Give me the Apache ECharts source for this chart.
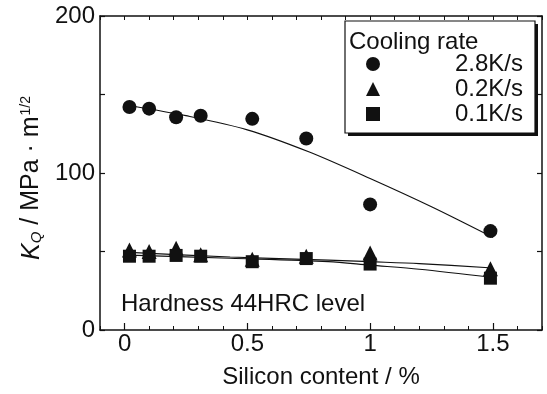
<!DOCTYPE html>
<html><head><meta charset="utf-8">
<script src="https://cdn.jsdelivr.net/npm/echarts@6/dist/echarts.min.js"></script>
<style>html,body{margin:0;padding:0;background:#fff}#c{width:547px;height:394px}</style>
</head><body><div id="c"></div>
<script>
// ---- data ----
var siliconX = [0.02, 0.10, 0.21, 0.31, 0.52, 0.74, 1.00, 1.49];
var k28 = [142, 141, 135.5, 136.5, 134.5, 122, 80, 63];
var k02 = [51, 50, 52, 48, 45, 47, 49, 39];
var k01 = [47, 47, 47.5, 47, 43.5, 45.5, 42, 33];
var fitX28 = [0.02, 0.25, 0.5, 0.75, 1.0, 1.25, 1.5];
var fit28 = [143, 136.5, 127.5, 113.5, 96.5, 78.5, 59];
var fitXlow = [0.02, 0.43, 0.83, 1.0, 1.2, 1.5];
var fit02 = [49.5, 46.5, 44.5, 43.5, 42.3, 39.5];
var fit01 = [47.7, 45.7, 43.6, 41.3, 38.7, 33.5];
var seriesNames = ['2.8K/s', '0.2K/s', '0.1K/s'];
var xMajorTicks = [0, 0.5, 1, 1.5];
var xMinorTicks = [-0.1, 0, 0.1, 0.2, 0.3, 0.4, 0.5, 0.6, 0.7, 0.8, 0.9, 1.0, 1.1, 1.2, 1.3, 1.4, 1.5, 1.6, 1.7];
var yTickLabels = [0, 100, 200];

function pairs(xs, ys) { return xs.map(function (x, i) { return [x, ys[i]]; }); }

var FONT = 'Liberation Sans';
var INK = '#111';
var chart = echarts.init(document.getElementById('c'));
var lineStyle = { color: INK, width: 1.2 };
function frameLine() { return { show: true, onZero: false, lineStyle: { color: INK, width: 1.5 } }; }
chart.setOption({
  animation: false,
  textStyle: { fontFamily: FONT, color: INK },
  grid: { left: 100, right: 5, top: 16, bottom: 63, containLabel: false },
  xAxis: [
    { type: 'value', min: -0.1, max: 1.7, position: 'bottom', offset: 0,
      axisLine: frameLine(),
      axisTick: { show: true, inside: true, length: 7, customValues: xMajorTicks, lineStyle: { color: INK, width: 1.2 } },
      axisLabel: { customValues: xMajorTicks, fontSize: 24, color: INK, margin: 2, fontFamily: FONT,
        formatter: function (v) { return String(v); } },
      splitLine: { show: false },
      name: 'Silicon content / %', nameLocation: 'middle', nameGap: 35,
      nameTextStyle: { fontSize: 24, color: INK, fontFamily: FONT } },
    { type: 'value', min: -0.1, max: 1.7, position: 'bottom', offset: 0,
      axisLine: { show: false, onZero: false },
      axisTick: { show: true, inside: true, length: 4, customValues: xMinorTicks, lineStyle: { color: INK, width: 1 } },
      axisLabel: { show: false }, splitLine: { show: false } },
    { type: 'value', min: -0.1, max: 1.7, position: 'top', offset: 0,
      axisLine: frameLine(),
      axisTick: { show: true, inside: true, length: 4, customValues: xMinorTicks, lineStyle: { color: INK, width: 1 } },
      axisLabel: { show: false }, splitLine: { show: false } }
  ],
  yAxis: [
    { type: 'value', min: 0, max: 200, interval: 50, position: 'left',
      axisLine: frameLine(),
      axisTick: { show: true, inside: true, length: 5, lineStyle: { color: INK, width: 1.2 } },
      axisLabel: { fontSize: 24, color: INK, margin: 5, fontFamily: FONT,
        formatter: function (v) { return yTickLabels.indexOf(v) >= 0 ? String(v) : ''; } },
      splitLine: { show: false },
      name: '{k|K}{q|Q}{n| / MPa · m}{s|1/2}', nameLocation: 'middle', nameGap: 30, nameRotate: 90,
      nameTextStyle: { fontFamily: FONT, color: INK, padding: [0, 10, 0, 0], rich: {
        k: { fontSize: 25, fontStyle: 'italic', fontFamily: FONT, color: INK, lineHeight: 26, verticalAlign: 'bottom' },
        q: { fontSize: 15, fontStyle: 'italic', fontFamily: FONT, color: INK, lineHeight: 15, verticalAlign: 'bottom' },
        n: { fontSize: 25, fontFamily: FONT, color: INK, lineHeight: 26, verticalAlign: 'bottom' },
        s: { fontSize: 14, fontFamily: FONT, color: INK, lineHeight: 14, verticalAlign: 'bottom', padding: [0, 0, 11, 1] }
      } } },
    { type: 'value', min: 0, max: 200, interval: 50, position: 'right',
      axisLine: frameLine(),
      axisTick: { show: true, inside: true, length: 5, lineStyle: { color: INK, width: 1.2 } },
      axisLabel: { show: false }, splitLine: { show: false } }
  ],
  legend: {
    orient: 'vertical', left: 366, top: 52, padding: 0, itemWidth: 14, itemHeight: 14, itemGap: 1,
    data: seriesNames,
    formatter: function (name) { return '{a|' + name + '}'; },
    textStyle: { fontSize: 24, color: INK, fontFamily: FONT, lineHeight: 24,
      rich: { a: { width: 138, align: 'right', fontSize: 24, fontFamily: FONT, color: INK, lineHeight: 24 } } },
    selectedMode: false
  },
  graphic: [
    { type: 'rect', shape: { x: 348, y: 24, width: 190, height: 112 }, style: { fill: INK }, z: 3 },
    { type: 'rect', shape: { x: 345, y: 21, width: 190, height: 112 }, style: { fill: '#fff', stroke: INK, lineWidth: 1.2 }, z: 3 },
    { type: 'text', x: 349, y: 30, style: { text: 'Cooling rate', font: '24px "Liberation Sans"', fill: INK }, z: 3 },
    { type: 'text', x: 121, y: 292, style: { text: 'Hardness 44HRC level', font: '24px "Liberation Sans"', fill: INK }, z: 3 }
  ],
  series: [
    { type: 'line', data: pairs(fitX28, fit28), smooth: 0.3, symbol: 'none', lineStyle: lineStyle, silent: true, z: 2 },
    { type: 'line', data: pairs(fitXlow, fit02), smooth: 0.3, symbol: 'none', lineStyle: lineStyle, silent: true, z: 2 },
    { type: 'line', data: pairs(fitXlow, fit01), smooth: 0.3, symbol: 'none', lineStyle: lineStyle, silent: true, z: 2 },
    { name: seriesNames[0], type: 'scatter', symbol: 'circle', symbolSize: 14, data: pairs(siliconX, k28), itemStyle: { color: INK, opacity: 1 }, z: 3 },
    { name: seriesNames[1], type: 'scatter', symbol: 'triangle', symbolSize: 15, data: pairs(siliconX, k02), itemStyle: { color: INK, opacity: 1 }, z: 3 },
    { name: seriesNames[2], type: 'scatter', symbol: 'rect', symbolSize: 13, data: pairs(siliconX, k01), itemStyle: { color: INK, opacity: 1 }, z: 4 }
  ]
});
</script></body></html>
